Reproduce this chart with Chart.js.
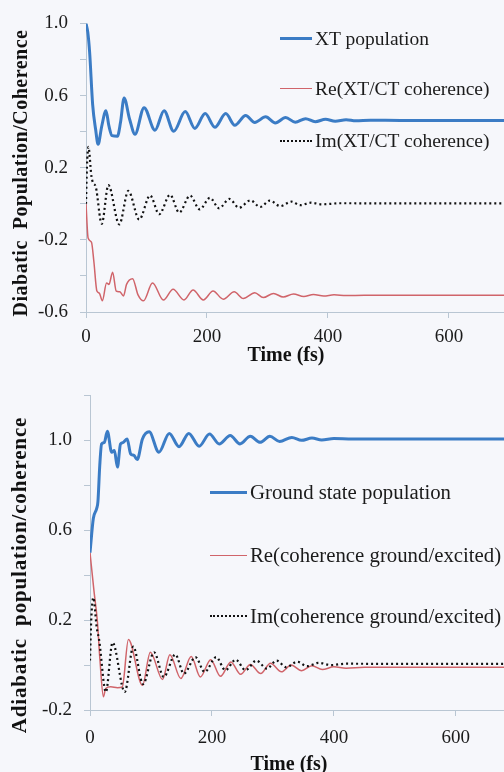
<!DOCTYPE html>
<html lang="en">
  <head>
    <meta charset="UTF-8" />
    <title>Diabatic and adiabatic population / coherence</title>
    <script src="https://cdn.jsdelivr.net/npm/chart.js@4.4.1/dist/chart.umd.min.js"></script>
    <style>
      body {
        margin: 0;
        background: #f6f7fb;
        font-family: "Liberation Serif", "Times New Roman", serif;
      }

      .page {
        position: relative;
        width: 504px;
        height: 772px;
        overflow: hidden;
        background: #f6f7fb;
      }

      #top-box {
        position: absolute;
        left: 0;
        top: 0;
        width: 504px;
        height: 372px;
      }

      #bottom-box {
        position: absolute;
        left: 0;
        top: 372px;
        width: 504px;
        height: 400px;
      }

      .legend-item {
        position: absolute;
        display: flex;
        align-items: center;
        color: #1b1b1b;
        white-space: nowrap;
        line-height: 1;
      }

      .swatch {
        display: inline-block;
        margin-right: 3px;
      }

      /* axis titles, centred on (left, top) */
      .axis-title {
        position: absolute;
        font-weight: bold;
        color: #111;
        white-space: pre;
        line-height: 1;
        transform: translate(-50%, -50%);
      }

      .axis-title.vertical {
        transform: translate(-50%, -50%) rotate(-90deg);
      }
    </style>
  </head>
  <body>
    <div class="page">
      <div id="top-box"><canvas id="topChart" width="504" height="372"></canvas></div>
      <div id="bottom-box"><canvas id="bottomChart" width="504" height="400"></canvas></div>

      <!-- axis titles -->
      <div class="axis-title vertical" style="left: 20px; top: 173px; font-size: 20px; letter-spacing: 0.5px">Diabatic  Population/Coherence</div>
      <div class="axis-title" style="left: 286px; top: 354px; font-size: 20px">Time (fs)</div>
      <div class="axis-title vertical" style="left: 19px; top: 575px; font-size: 21px; letter-spacing: 0.85px">Adiabatic  population/coherence</div>
      <div class="axis-title" style="left: 289px; top: 763px; font-size: 20px">Time (fs)</div>

      <!-- legends -->
      <div class="legend-item" style="left: 280px; top: 29px; font-size: 19.5px">
        <span class="swatch" style="width: 32px; border-top: 3px solid #3b7cc5"></span>XT population
      </div>
      <div class="legend-item" style="left: 280px; top: 79px; font-size: 19.5px">
        <span class="swatch" style="width: 32px; border-top: 1.5px solid #d0646a"></span>Re(XT/CT coherence)
      </div>
      <div class="legend-item" style="left: 280px; top: 131px; font-size: 19.5px">
        <span class="swatch" style="width: 32px; border-top: 2px dotted #111"></span>Im(XT/CT coherence)
      </div>

      <div class="legend-item" style="left: 210px; top: 482px; font-size: 20.8px">
        <span class="swatch" style="width: 37px; border-top: 3px solid #3b7cc5"></span>Ground state population
      </div>
      <div class="legend-item" style="left: 210px; top: 545px; font-size: 20.8px">
        <span class="swatch" style="width: 37px; border-top: 1.5px solid #d0646a"></span>Re(coherence ground/excited)
      </div>
      <div class="legend-item" style="left: 210px; top: 606px; font-size: 20.8px">
        <span class="swatch" style="width: 37px; border-top: 2px dotted #111"></span>Im(coherence ground/excited)
      </div>
    </div>

    <script>
      // ---- top panel: diabatic populations (time in fs) ----
      const xtTime = [0, 3, 6, 11, 16, 20, 26, 33, 38, 43, 52, 57, 63, 72, 81, 96, 114, 129, 145, 164,
        180, 197, 213, 231, 246, 264, 279, 297, 313, 330, 346, 363, 379, 396, 412, 430, 446, 470, 520, 600, 691];
      const xtPopulation = [1.0, 0.95, 0.84, 0.55, 0.41, 0.33, 0.43, 0.516, 0.43, 0.378, 0.375, 0.45, 0.587, 0.47, 0.386, 0.533, 0.408, 0.516, 0.402, 0.511,
        0.418, 0.5, 0.424, 0.5, 0.435, 0.489, 0.451, 0.482, 0.448, 0.478, 0.452, 0.472, 0.455, 0.468, 0.458, 0.466, 0.46, 0.463, 0.462, 0.462, 0.462];

      const reXtTime = [0, 3.5, 9, 13, 18, 22, 27, 34, 38, 44, 50, 56, 62, 67, 77, 86, 95, 110, 128, 144,
        162, 177, 194, 210, 227, 245, 260, 279, 293, 310, 326, 343, 360, 376, 393, 410, 430, 460, 550, 691];
      const reXtCoherence = [0, -0.19, -0.212, -0.32, -0.484, -0.495, -0.538, -0.439, -0.447, -0.379, -0.484, -0.488, -0.511, -0.447, -0.415, -0.505, -0.538, -0.439, -0.534, -0.474,
        -0.533, -0.478, -0.533, -0.484, -0.529, -0.488, -0.525, -0.493, -0.52, -0.497, -0.517, -0.5, -0.514, -0.503, -0.511, -0.505, -0.509, -0.507, -0.507, -0.507];

      const imXtTime = [0, 1.5, 4, 9, 12, 16, 26, 37, 55, 70, 88, 106, 121, 139, 154, 172, 188, 205, 220, 237,
        253, 272, 288, 304, 321, 340, 354, 372, 390, 420, 500, 691];
      const imXtCoherence = [0, 0.2, 0.315, 0.152, 0.114, 0.096, -0.111, 0.103, -0.114, 0.071, -0.087, 0.046, -0.058, 0.05, -0.049, 0.045, -0.031, 0.033, -0.025, 0.027,
        -0.022, 0.019, -0.018, 0.018, -0.013, 0.012, -0.008, 0.006, -0.003, 0.003, 0.002, 0.002];

      // ---- bottom panel: adiabatic populations ----
      const gsTime = [0, 5.5, 11, 13, 16, 19, 23.5, 28.5, 35.5, 40, 45, 50, 54, 61, 66.6, 72, 77.5, 86, 97, 113,
        130, 146, 162, 179, 196, 212, 230, 246, 263, 279, 295, 311, 331, 347, 364, 380, 400, 430, 500, 679];
      const gsPopulation = [0.5, 0.653, 0.697, 0.727, 0.888, 0.984, 0.991, 1.04, 0.947, 0.955, 0.881, 0.984, 0.99, 1.006, 0.94, 0.933, 0.915, 1.006, 1.038, 0.947,
        1.031, 0.972, 1.031, 0.974, 1.028, 0.984, 1.021, 0.984, 1.018, 0.991, 1.018, 0.995, 1.013, 1.0, 1.01, 1.002, 1.008, 1.006, 1.006, 1.006];

      const reGeTime = [0, 6.5, 12, 16.4, 22, 25.7, 34, 45, 53, 63, 86, 99, 119, 131, 149, 166, 181, 198, 214, 231,
        247, 263, 280, 296, 314, 330, 347, 364, 381, 400, 420, 450, 679];
      const reGeCoherence = [0.5, 0.33, 0.197, 0.02, -0.141, -0.104, -0.097, -0.101, -0.097, 0.114, -0.09, 0.057, -0.064, 0.046, -0.06, 0.038, -0.053, 0.024, -0.05, 0.014,
        -0.041, 0.003, -0.038, 0.008, -0.03, 0.0, -0.025, -0.003, -0.02, -0.008, -0.014, -0.01, -0.01];

      const imGeTime = [0, 2, 5.5, 11, 15, 26, 37, 57, 71, 87, 105, 121, 140, 154, 173, 188, 207, 222, 239, 255,
        273, 290, 306, 322, 340, 356, 375, 395, 420, 500, 679];
      const imGeCoherence = [0.02, 0.2, 0.3, 0.167, 0.111, -0.12, 0.1, -0.12, 0.082, -0.085, 0.057, -0.053, 0.047, -0.038, 0.035, -0.031, 0.035, -0.023, 0.024, -0.023,
        0.02, -0.016, 0.02, -0.01, 0.015, -0.005, 0.01, 0.0, 0.006, 0.005, 0.005];

      // tick labels
      const topYLabels = [1.0, 0.6, 0.2, -0.2, -0.6];
      const bottomYLabels = [1.0, 0.6, 0.2, -0.2];
      const xLabels = [0, 200, 400, 600];

      const BLUE = "#3b7cc5";
      const RED = "#d0646a";
      const AXIS = "#b9c6d3";
      const SERIF = "'Liberation Serif', 'Times New Roman', serif";

      function pts(xs, ys) {
        return xs.map((x, i) => ({ x: x, y: ys[i] }));
      }

      function lineSet(label, xs, ys, style) {
        return Object.assign(
          {
            label: label,
            data: pts(xs, ys),
            pointRadius: 0,
            fill: false,
            cubicInterpolationMode: "monotone",
          },
          style
        );
      }

      function makePanel(id, cfg) {
        const ctx = document.getElementById(id).getContext("2d");
        return new Chart(ctx, {
          type: "line",
          data: { datasets: cfg.datasets },
          options: {
            responsive: false,
            animation: false,
            events: [],
            layout: { padding: { top: cfg.padTop, right: 0, bottom: 0, left: 0 } },
            plugins: { legend: { display: false }, tooltip: { enabled: false } },
            scales: {
              x: {
                type: "linear",
                min: 0,
                max: cfg.xMax,
                afterFit: (s) => { s.height = cfg.xHeight; },
                grid: { drawOnChartArea: false, tickLength: 6, color: AXIS },
                border: { color: AXIS },
                ticks: {
                  stepSize: 200,
                  includeBounds: false,
                  autoSkip: false,
                  maxRotation: 0,
                  padding: cfg.xTickPad,
                  color: "#1b1b1b",
                  font: { family: SERIF, size: 19 },
                  callback: (v) => (xLabels.includes(v) ? String(v) : ""),
                },
              },
              y: {
                min: cfg.yMin,
                max: cfg.yMax,
                afterFit: (s) => { s.width = cfg.yWidth; },
                grid: { drawOnChartArea: false, tickLength: 6, color: AXIS },
                border: { color: AXIS },
                ticks: {
                  stepSize: 0.2,
                  autoSkip: false,
                  padding: 12,
                  color: "#1b1b1b",
                  font: { family: SERIF, size: 19 },
                  callback: (v) => {
                    const hit = cfg.yLabels.find((l) => Math.abs(l - v) < 1e-6);
                    return hit === undefined ? "" : hit.toFixed(1);
                  },
                },
              },
            },
          },
        });
      }

      makePanel("topChart", {
        padTop: 17,
        xMax: 691,
        xHeight: 60,
        xTickPad: 8,
        yWidth: 86,
        yMin: -0.6,
        yMax: 1.0,
        yLabels: topYLabels,
        datasets: [
          lineSet("Im(XT/CT coherence)", imXtTime, imXtCoherence, {
            borderColor: "#111", borderWidth: 2.2, borderDash: [2, 3],
          }),
          lineSet("XT population", xtTime, xtPopulation, { borderColor: BLUE, borderWidth: 3 }),
          lineSet("Re(XT/CT coherence)", reXtTime, reXtCoherence, { borderColor: RED, borderWidth: 1.5 }),
        ],
      });

      makePanel("bottomChart", {
        padTop: 21,
        xMax: 679,
        xHeight: 62,
        xTickPad: 11,
        yWidth: 90,
        yMin: -0.2,
        yMax: 1.2,
        yLabels: bottomYLabels,
        datasets: [
          lineSet("Im(coherence ground/excited)", imGeTime, imGeCoherence, {
            borderColor: "#111", borderWidth: 2.2, borderDash: [2, 3],
          }),
          lineSet("Ground state population", gsTime, gsPopulation, { borderColor: BLUE, borderWidth: 3 }),
          lineSet("Re(coherence ground/excited)", reGeTime, reGeCoherence, { borderColor: RED, borderWidth: 1.5 }),
        ],
      });
    </script>
  </body>
</html>
